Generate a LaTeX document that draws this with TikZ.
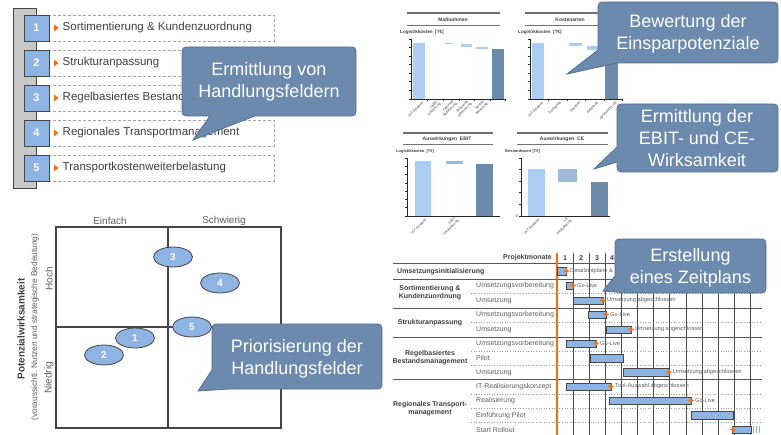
\documentclass[tikz,border=0pt]{standalone}
\usepackage{fontspec}
\setmainfont{Liberation Sans}
\usetikzlibrary{shapes.geometric}
\definecolor{cfill}{RGB}{107,138,173}
\definecolor{cborder}{RGB}{84,112,145}
\definecolor{nbfill}{RGB}{141,180,226}
\definecolor{dgray}{RGB}{70,70,70}
\definecolor{tgray}{RGB}{64,64,64}
\definecolor{lgray}{RGB}{95,95,95}
\definecolor{orng}{RGB}{240,110,20}
\definecolor{barlight}{RGB}{172,206,242}
\definecolor{bardelta}{RGB}{160,186,214}
\definecolor{bardark}{RGB}{108,138,170}
\definecolor{spinefill}{RGB}{200,200,200}
\newcommand\msmark[2]{\fill[orng] ({#1-3.2},#2) -- ({#1-1},{#2-1}) -- (#1,{#2-3.2}) -- ({#1+1},{#2-1}) -- ({#1+3.2},#2) -- ({#1+1},{#2+1}) -- (#1,{#2+3.2}) -- ({#1-1},{#2+1}) -- cycle;}
\begin{document}
\begin{tikzpicture}[x=1pt,y=-1pt,
  every node/.style={inner sep=0pt},
  callout/.style={fill=cfill,draw=cborder,line width=0.8pt},
  calltext/.style={text=white,align=center,font=\fontsize{18}{22}\selectfont},
  spine/.style={fill=spinefill,draw=dgray,line width=0.9pt},
  numbox/.style={draw=dgray,fill=nbfill,line width=0.9pt,minimum width=25pt,minimum height=26pt,text=white,font=\fontsize{11}{13}\selectfont\bfseries},
  dashbox/.style={draw=black!35,line width=0.6pt,dash pattern=on 3pt off 2pt},
  listtext/.style={anchor=west,text=tgray,font=\fontsize{11.5}{13}\selectfont},
  matline/.style={draw=dgray,line width=1.1pt},
  matlab/.style={text=lgray,font=\fontsize{10}{12}\selectfont},
  ellnode/.style={ellipse,draw=dgray,fill=nbfill,line width=0.8pt,minimum width=39pt,minimum height=20pt,text=white,font=\fontsize{10}{12}\selectfont\bfseries},
  chtop/.style={draw=black!55,line width=1.6pt},
  chthin/.style={draw=black!55,line width=0.7pt},
  chtitle/.style={text=tgray,font=\fontsize{5}{6}\selectfont\bfseries},
  chunit/.style={anchor=west,text=tgray,font=\fontsize{4.6}{5.5}\selectfont\bfseries},
  axisline/.style={draw=black!85,line width=0.7pt},
  chlab/.style={rotate=45,anchor=east,align=right,text=tgray,font=\fontsize{3.5}{3.9}\selectfont},
  gline/.style={draw=black!70,line width=0.9pt},
  oline/.style={draw=orng,line width=1.1pt},
  hline/.style={draw=black!65,line width=0.9pt},
  dline/.style={draw=black!40,line width=0.6pt,dotted},
  gtext/.style={anchor=west,text=lgray,font=\fontsize{7}{8.4}\selectfont},
  gbold/.style={text=tgray,align=center,font=\fontsize{7}{8.4}\selectfont\bfseries},
  gbar/.style={draw=dgray,fill=nbfill,line width=0.8pt},
  mstext/.style={anchor=west,text=lgray,font=\fontsize{5.7}{6.5}\selectfont}
]
\useasboundingbox (0,0) rectangle (781,435);
\fill[white] (0,0) rectangle (781,435);

% ---------------- list of fields ----------------
\draw[spine] (13,8) rectangle (36,188);
\foreach \i/\yy/\txt in {1/15/Sortimentierung \& Kundenzuordnung, 2/50/Strukturanpassung, 3/85/Regelbasiertes Bestandsmanagement, 4/120/Regionales Transportmanagement, 5/155/Transportkostenweiterbelastung}{
  \draw[dashbox] (49,\yy) rectangle (274,{\yy+26});
  \node[numbox] (nb\i) at (36.5,{\yy+13}) {\i};
  \fill[orng] (54,{\yy+9.5}) -- (58.5,{\yy+13}) -- (54,{\yy+16.5}) -- cycle;
  \node[listtext] (lt\i) at (62.5,{\yy+13}) {\txt};
}

% ---------------- matrix ----------------
\draw[matline] (56,227) rectangle (281,428);
\draw[matline] (168,227) -- (168,428);
\draw[matline] (56,327) -- (281,327);
\node[matlab] (mE) at (110,221) {Einfach};
\node[matlab] (mS) at (224,221) {Schwierig};
\node[matlab,rotate=90] (mH) at (49,279) {Hoch};
\node[matlab,rotate=90] (mN) at (49,378) {Niedrig};
\node[rotate=90,text=tgray,font=\fontsize{10}{12}\selectfont\bfseries] (mP) at (21,329) {Potenzialwirksamkeit};
\node[rotate=90,text=lgray,font=\fontsize{8.3}{10}\selectfont] (mV) at (35,327) {(voraussichtl. Nutzen und strategische Bedeutung)};
\node[ellnode] (e3) at (173,257) {3};
\node[ellnode] (e4) at (220,283) {4};
\node[ellnode] (e5) at (192,327) {5};
\node[ellnode] (e1) at (135,338) {1};
\node[ellnode] (e2) at (104,355) {2};

% ---------------- chart 1: Massnahmen ----------------
\draw[chtop] (407,13) -- (500,13);
\node[chtitle] (t1) at (453,20) {Maßnahmen};
\draw[chthin] (407,25) -- (500,25);
\node[chunit] (u1) at (400,32) {Logistikkosten\ \ [T€]};
\fill[barlight] (413,43) rectangle (425,99);
\fill[barlight] (445,43) rectangle (453,44.5);
\fill[barlight] (461,44.5) rectangle (472,47.5);
\fill[barlight] (476,47) rectangle (488,49.5);
\fill[bardark] (492,49) rectangle (504,99);
\draw[axisline] (411,39) -- (411,99) -- (505,99);
\foreach \k in {0,...,7} \draw[axisline] (409,{39+8.57*\k}) -- (411,{39+8.57*\k});
\foreach \xx in {427,443,459,474,490,505} \draw[axisline] (\xx,99) -- (\xx,101);
\node[chlab] (a1) at (423,102) {IST-Situation};
\node[chlab] (a2) at (439,102) {Lager-\\schließung};
\node[chlab] (a3) at (455,102) {Optimale\\Belieferung};
\node[chlab] (a4) at (470,102) {Bestands-\\optimierung};
\node[chlab] (a5) at (486,102) {Kosten-\\belastung};

% ---------------- chart 2: Kostenarten ----------------
\draw[chtop] (525,13) -- (623,13);
\node[chtitle] (t2) at (570,20) {Kostenarten};
\draw[chthin] (525,25) -- (623,25);
\node[chunit] (u2) at (518,32) {Logistikkosten\ \ [T€]};
\fill[barlight] (532,43) rectangle (544,99);
\fill[barlight] (569,43) rectangle (582,46);
\fill[barlight] (587,46) rectangle (600,50);
\fill[bardark] (605,50) rectangle (618,99);
\draw[axisline] (530,39) -- (530,99) -- (622,99);
\foreach \k in {0,...,7} \draw[axisline] (528,{39+8.57*\k}) -- (530,{39+8.57*\k});
\foreach \xx in {548,567,585,604,622} \draw[axisline] (\xx,99) -- (\xx,101);
\node[chlab] (b1) at (543,102) {IST-Situation};
\node[chlab] (b2) at (561,102) {Transporte};
\node[chlab] (b3) at (580,102) {Standort};
\node[chlab] (b4) at (598,102) {Bestände};
\node[chlab] (b5) at (617,102) {optimiertes IST};

% ---------------- chart 3: EBIT ----------------
\draw[chtop] (403,133) -- (493,133);
\node[chtitle] (t3) at (447,139) {Auswirkungen\ \ EBIT};
\draw[chthin] (403,144) -- (493,144);
\node[chunit,font=\fontsize{4}{5}\selectfont\bfseries] (u3) at (396,151) {Logistikkosten\ \ [T€]};
\fill[barlight] (415,161) rectangle (431,216);
\fill[bardelta] (446,161) rectangle (463,164.5);
\fill[bardark] (476,164) rectangle (493,216);
\draw[axisline] (407,158) -- (407,216) -- (500,216);
\foreach \k in {0,...,7} \draw[axisline] (405,{158+8.29*\k}) -- (407,{158+8.29*\k});
\node[chlab] (c1) at (426,219) {IST-Situation};
\node[chlab] (c2) at (457,219) {EBIT-\\Veränderung};

% ---------------- chart 4: CE ----------------
\draw[chtop] (517,133) -- (608,133);
\node[chtitle] (t4) at (562,139) {Auswirkungen\ \ CE};
\draw[chthin] (517,144) -- (608,144);
\node[chunit,font=\fontsize{4}{5}\selectfont\bfseries] (u4) at (505,151) {Bestandswert [T€]};
\fill[barlight] (528,169) rectangle (545,216);
\fill[bardelta] (558,169) rectangle (577,182);
\fill[bardark] (591,182) rectangle (608,216);
\draw[axisline] (521,158) -- (521,216) -- (610,216);
\foreach \k in {0,...,5} \draw[axisline] (519,{158+11.6*\k}) -- (521,{158+11.6*\k});
\node[anchor=east,text=tgray,font=\fontsize{4}{5}\selectfont] (z4) at (518,216) {0};
\node[chlab] (d1) at (539,219) {IST-Situation};
\node[chlab] (d2) at (570,219) {CE-\\Veränderung};

% ---------------- Gantt ----------------
\foreach \yy in {263,279,308,337,379} \draw[hline] (393,\yy) -- (762,\yy);
\foreach \yy in {293,322,351,365,394,408,422} \draw[dline] (471,\yy) -- (762,\yy);
\foreach \k in {0,...,11} \draw[gline] ({573+16.15*\k},253) -- ({573+16.15*\k},435);
\draw[oline] (557,253) -- (557,435);
\node[gbold,anchor=east] (pm) at (552,258) {Projektmonate};
\foreach \m/\xx in {1/565,2/581,3/597,4/612} \node[gbold] (mo\m) at (\xx,258) {\m};
\node[gbold,anchor=west] (g0) at (397,271.5) {Umsetzungsinitialisierung};
\node[gbold] (g1) at (430,293) {Sortimentierung \&\\Kundenzuordnung};
\node[gbold] (g2) at (430,322.5) {Strukturanpassung};
\node[gbold] (g3) at (430,357.5) {Regelbasiertes\\Bestandsmanagement};
\node[gbold] (g4) at (430,409) {Regionales Transport-\\management};
\node[gtext] (r1) at (476,286) {Umsetzungsvorbereitung};
\node[gtext] (r2) at (476,300.5) {Umsetzung};
\node[gtext] (r3) at (476,315) {Umsetzungsvorbereitung};
\node[gtext] (r4) at (476,329.5) {Umsetzung};
\node[gtext] (r5) at (476,344) {Umsetzungsvorbereitung};
\node[gtext] (r6) at (476,358) {Pilot};
\node[gtext] (r7) at (476,372.5) {Umsetzung};
\node[gtext] (r8) at (476,387) {IT-Realisierungskonzept};
\node[gtext] (r9) at (476,401) {Realisierung};
\node[gtext] (r10) at (476,415.5) {Einführung Pilot};
\node[gtext] (r11) at (476,429.5) {Start Rollout};

\draw[gbar] (557,267) rectangle (566,275);   \msmark{566.5}{271}
\node[mstext] (s0) at (570,271.5) {Detailzeitpläne \&};
\draw[gbar] (566,282) rectangle (573,289);   \msmark{573}{285.5}
\node[mstext] (s1) at (577,285.5) {Go-Live};
\draw[gbar] (573,297) rectangle (603,304);   \msmark{603}{300.5}
\node[mstext] (s2) at (607,300.5) {Umsetzung abgeschlossen};
\draw[gbar] (588,311) rectangle (606,318);   \msmark{606}{314.5}
\node[mstext] (s3) at (610,314.5) {Go-Live};
\draw[gbar] (606,326) rectangle (631,333);   \msmark{631}{329.5}
\node[mstext] (s4) at (635,329.5) {Umsetzung abgeschlossen};
\draw[gbar] (566,340) rectangle (596,347);   \msmark{596}{343.5}
\node[mstext] (s5) at (600,343.5) {Go-Live};
\draw[gbar] (590,354) rectangle (623,362);
\draw[gbar] (623,368) rectangle (669,376);   \msmark{669}{372}
\node[mstext] (s6) at (673,372) {Umsetzung abgeschlossen};
\draw[gbar] (566,383) rectangle (611,390);   \msmark{611}{386.5}
\node[mstext] (s7) at (615,386.5) {Tool-Auswahl abgeschlossen};
\draw[gbar] (609,397) rectangle (691,404);   \msmark{691}{400.5}
\node[mstext] (s8) at (695,400.5) {Go-Live};
\draw[gbar] (691,411) rectangle (733,419);
\draw[gbar] (732,426) rectangle (751,433);   \msmark{733}{429.5}
\foreach \xx in {753.5,756.5,759.5} \draw[draw=nbfill,line width=1.2pt] (\xx,426) -- (\xx,433);

% ---------------- callouts ----------------
\path[callout] (191,47) -- (347,47) .. controls (356,47) .. (356,56) -- (356,107) .. controls (356,116) .. (347,116) -- (255,116) -- (193,140) -- (210,116) -- (191,116) .. controls (182,116) .. (182,107) -- (182,56) .. controls (182,47) .. (191,47) -- cycle;
\node[calltext] (k1) at (269,82) {Ermittlung von\\Handlungsfeldern};

\path[callout] (221,324) -- (373,324) .. controls (382,324) .. (382,333) -- (382,380) .. controls (382,389) .. (373,389) -- (230,389) -- (198,391) -- (212,370) -- (212,333) .. controls (212,324) .. (221,324) -- cycle;
\node[calltext] (k2) at (297,358.5) {Priorisierung der\\Handlungsfelder};

\path[callout] (607,2) -- (769,2) .. controls (778,2) .. (778,11) -- (778,54) .. controls (778,63) .. (769,63) -- (617,63) -- (567,74) -- (598,50) -- (598,11) .. controls (598,2) .. (607,2) -- cycle;
\node[calltext] (k3) at (688,33.5) {Bewertung der\\Einsparpotenziale};

\path[callout] (626,104) -- (769,104) .. controls (778,104) .. (778,113) -- (778,163) .. controls (778,172) .. (769,172) -- (626,172) .. controls (617,172) .. (617,163) -- (617,162) -- (594,169) -- (617,147) -- (617,113) .. controls (617,104) .. (626,104) -- cycle;
\node[calltext] (k4) at (697,138) {Ermittlung der\\EBIT- und CE-\\Wirksamkeit};

\path[callout] (624,239) -- (757,239) .. controls (766,239) .. (766,248) -- (766,284) .. controls (766,293) .. (757,293) -- (627,293) -- (603,291) -- (615,276) -- (615,248) .. controls (615,239) .. (624,239) -- cycle;
\node[calltext] (k5) at (690.5,267.5) {Erstellung\\eines Zeitplans};
\end{tikzpicture}
\end{document}
